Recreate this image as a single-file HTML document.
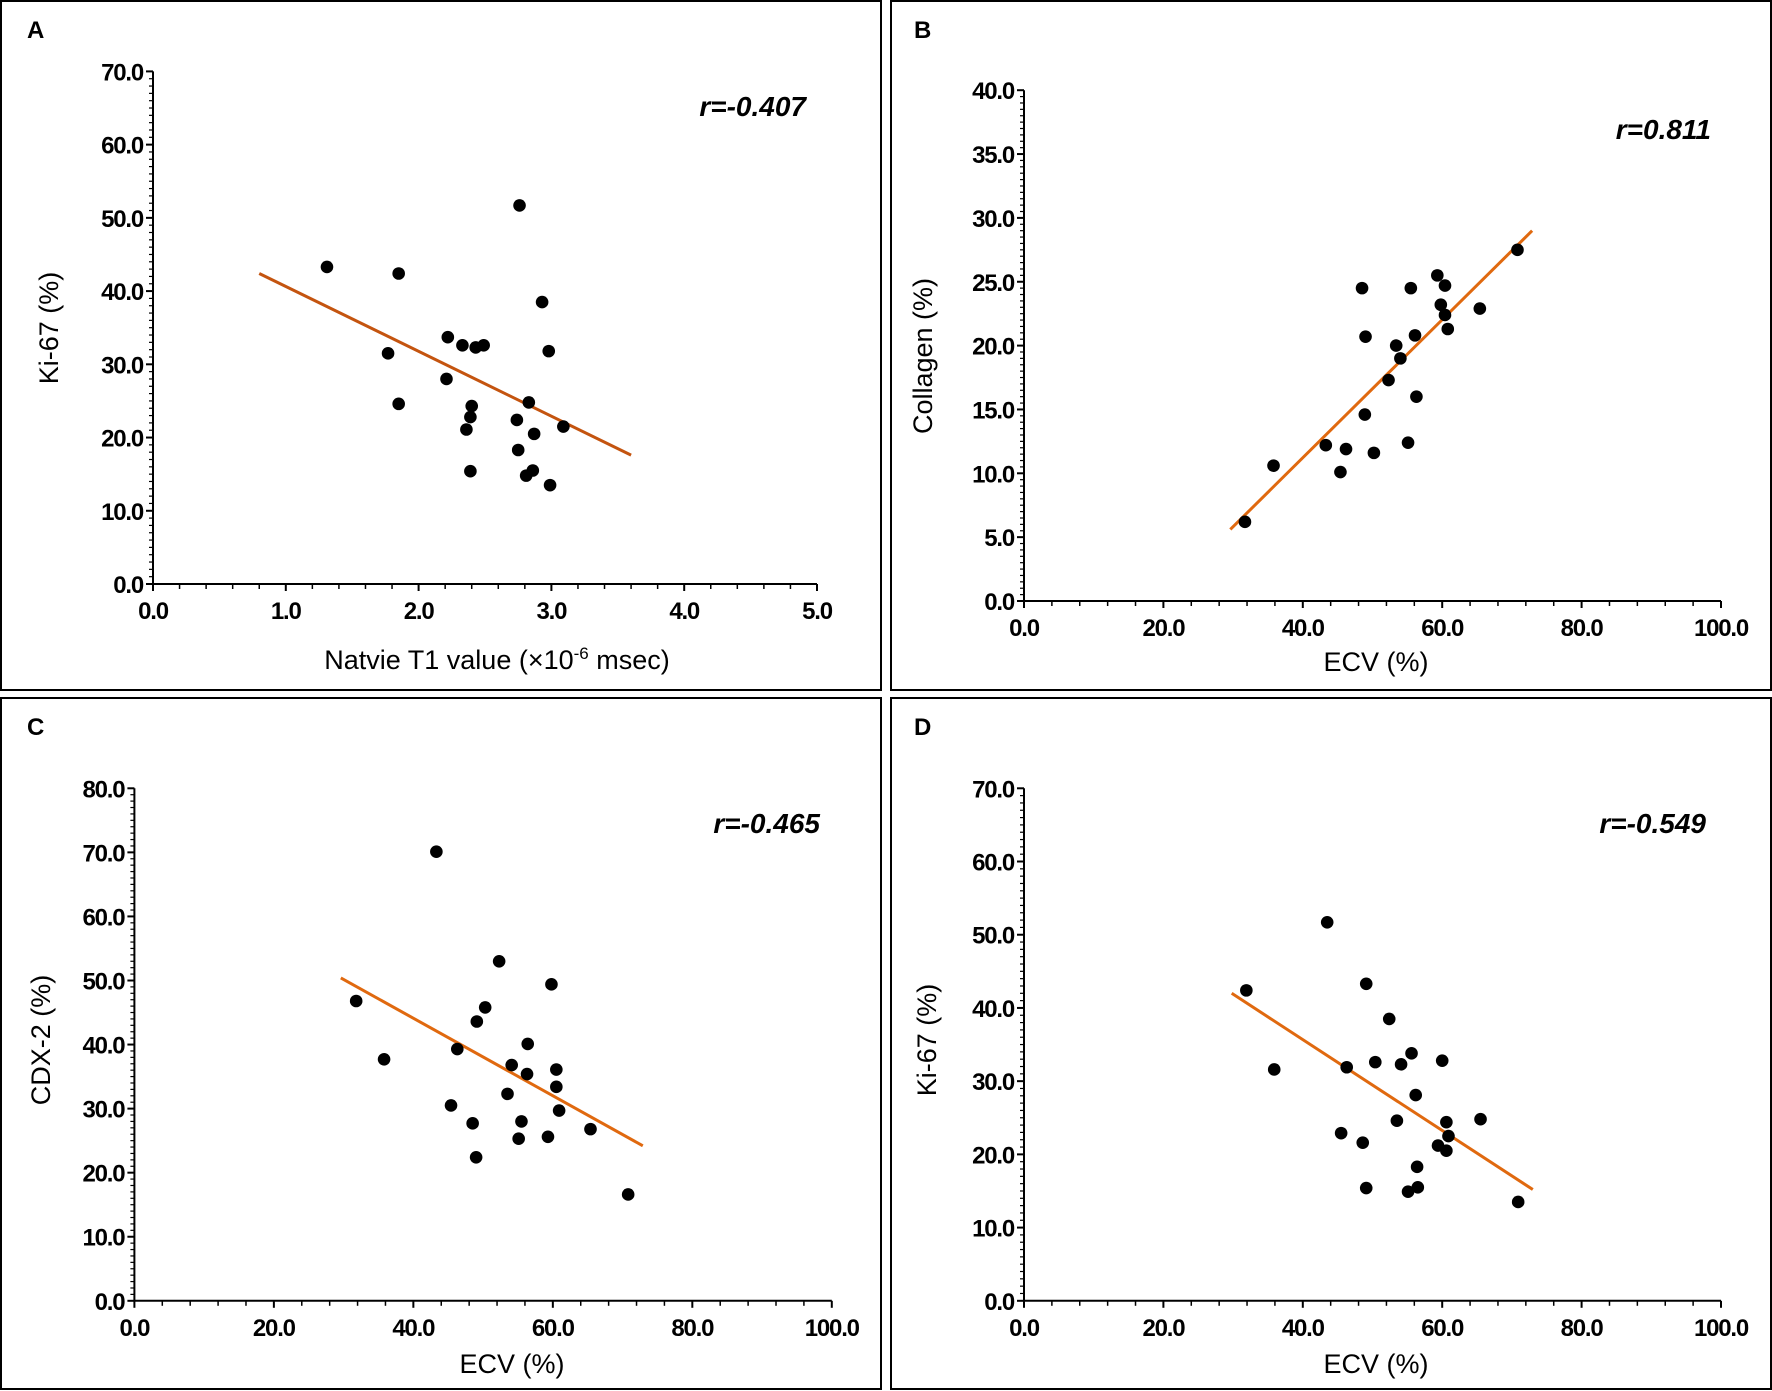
<!DOCTYPE html>
<html><head><meta charset="utf-8"><style>
html,body{margin:0;padding:0;background:#fff}
svg{display:block}
text{font-family:"Liberation Sans",sans-serif;fill:#000}
.tick{font-family:"Liberation Sans Narrow","Liberation Sans",sans-serif;font-weight:bold;font-size:24px;letter-spacing:-1.2px}
.title{font-size:27px}
.rlab{font-weight:bold;font-style:italic;font-size:28px}
.letter{font-weight:bold;font-size:24px}
</style></head><body>
<svg id="fig" width="1772" height="1391" viewBox="0 0 1772 1391" xmlns="http://www.w3.org/2000/svg"></svg>
<script>
// Panel A data
const aX = [1.31,1.85,2.76,2.93,1.77,2.22,2.33,2.43,2.49,2.98,2.21,1.85,2.40,2.39,2.36,2.83,2.74,3.09,2.87,2.75,2.39,2.81,2.86,2.99];
const aY = [43.3,42.4,51.7,38.5,31.5,33.7,32.6,32.3,32.6,31.8,28.0,24.6,24.3,22.8,21.1,24.8,22.4,21.5,20.5,18.3,15.4,14.8,15.5,13.5];
const aTrendX = [0.8,3.6];
const aTrendY = [42.4,17.6];
const aXTicks = ["0.0","1.0","2.0","3.0","4.0","5.0"];
const aYTicks = ["0.0","10.0","20.0","30.0","40.0","50.0","60.0","70.0"];
// Panel B data
const bX = [31.7,35.8,43.3,46.2,45.4,50.2,55.1,48.9,56.3,52.3,54.0,53.4,49.0,56.1,48.5,55.5,59.3,60.4,59.8,60.4,60.8,65.4,70.8];
const bY = [6.2,10.6,12.2,11.9,10.1,11.6,12.4,14.6,16.0,17.3,19.0,20.0,20.7,20.8,24.5,24.5,25.5,24.7,23.2,22.4,21.3,22.9,27.5];
const bTrendX = [29.6,72.9];
const bTrendY = [5.6,29.0];
const bXTicks = ["0.0","20.0","40.0","60.0","80.0","100.0"];
const bYTicks = ["0.0","5.0","10.0","15.0","20.0","25.0","30.0","35.0","40.0"];
// Panel C data
const cX = [43.3,52.3,59.8,31.8,50.3,49.1,56.4,46.3,35.8,54.1,60.5,56.3,60.5,53.5,45.4,60.9,55.5,48.5,65.4,59.3,55.1,49.0,70.8];
const cY = [70.1,53.0,49.4,46.8,45.8,43.6,40.1,39.3,37.7,36.8,36.1,35.4,33.4,32.3,30.5,29.7,28.0,27.7,26.8,25.6,25.3,22.4,16.6];
const cTrendX = [29.6,72.9];
const cTrendY = [50.4,24.2];
const cXTicks = ["0.0","20.0","40.0","60.0","80.0","100.0"];
const cYTicks = ["0.0","10.0","20.0","30.0","40.0","50.0","60.0","70.0","80.0"];
// Panel D data
const dX = [43.5,31.9,49.1,52.4,35.9,46.3,50.4,54.1,55.6,60.0,56.2,53.5,60.6,65.5,60.9,45.5,48.6,59.4,60.6,56.4,49.1,55.1,56.5,70.9];
const dY = [51.7,42.4,43.3,38.5,31.6,31.9,32.6,32.3,33.8,32.8,28.1,24.6,24.4,24.8,22.5,22.9,21.6,21.2,20.5,18.3,15.4,14.9,15.5,13.5];
const dTrendX = [29.8,73.0];
const dTrendY = [42.0,15.2];
const dXTicks = ["0.0","20.0","40.0","60.0","80.0","100.0"];
const dYTicks = ["0.0","10.0","20.0","30.0","40.0","50.0","60.0","70.0"];

const NS="http://www.w3.org/2000/svg";
const svg=document.getElementById('fig');
function el(tag,attrs,parent,txt){const e=document.createElementNS(NS,tag);for(const k in attrs)e.setAttribute(k,attrs[k]);if(txt!==undefined)e.textContent=txt;(parent||svg).appendChild(e);return e;}

function panel(cfg){
  const g=el('g',{});
  
  
  const b=el('rect',{x:cfg.box[0],y:cfg.box[1],width:cfg.box[2],height:cfg.box[3],fill:'none',stroke:'#000','stroke-width':2},g);
  
  
  const L=el('text',{x:cfg.letter[0],y:cfg.letter[1],class:'letter'},g,cfg.id);
  
  
  const sx=v=>cfg.x0+(v-cfg.xmin)/(cfg.xmax-cfg.xmin)*(cfg.x1-cfg.x0);
  const sy=v=>cfg.y0-(v-cfg.ymin)/(cfg.ymax-cfg.ymin)*(cfg.y0-cfg.y1);
  const ax=el('line',{x1:cfg.x0,y1:cfg.y0,x2:cfg.x1,y2:cfg.y0,stroke:'#000','stroke-width':2},g);
  
  
  const ay=el('line',{x1:cfg.x0,y1:cfg.y0,x2:cfg.x0,y2:cfg.y1,stroke:'#000','stroke-width':2},g);
  
  
  const nx=cfg.xTicks.length-1, xstep=(cfg.xmax-cfg.xmin)/nx;
  for(let i=0;i<=nx;i++){
    const v=cfg.xmin+i*xstep, X=sx(v);
    el('line',{x1:X,y1:cfg.y0,x2:X,y2:cfg.y0+7,stroke:'#000','stroke-width':2},g);
    const t=el('text',{x:X,y:cfg.y0+35,'text-anchor':'middle',class:'tick'},g,cfg.xTicks[i]);
    
    
    if(i<nx){for(let m=1;m<cfg.xMinor;m++){const XX=sx(v+m*xstep/cfg.xMinor);el('line',{x1:XX,y1:cfg.y0,x2:XX,y2:cfg.y0+5,stroke:'#000','stroke-width':1.5},g);}}
  }
  const ny=cfg.yTicks.length-1, ystep=(cfg.ymax-cfg.ymin)/ny;
  for(let i=0;i<=ny;i++){
    const v=cfg.ymin+i*ystep, Y=sy(v);
    el('line',{x1:cfg.x0-7,y1:Y,x2:cfg.x0,y2:Y,stroke:'#000','stroke-width':2},g);
    const t=el('text',{x:cfg.x0-10,y:Y+9,'text-anchor':'end',class:'tick'},g,cfg.yTicks[i]);
    
    
    if(i<ny){for(let m=1;m<10;m++){const YY=sy(v+m*ystep/10);el('line',{x1:cfg.x0-4,y1:YY,x2:cfg.x0,y2:YY,stroke:'#000','stroke-width':1.2},g);}}
  }
  const xt=el('text',{x:cfg.xt[0],y:cfg.xt[1],'text-anchor':'middle',class:'title'},g);
  
  
  if(cfg.sup){xt.textContent='Natvie T1 value (\u00d710';el('tspan',{dy:-10,'font-size':17},xt,'-6');el('tspan',{dy:10},xt,' msec)');}
  else xt.textContent=cfg.xTitle;
  const yt=el('text',{x:cfg.yt[0],y:cfg.yt[1],'text-anchor':'middle',class:'title',transform:`rotate(-90 ${cfg.yt[0]} ${cfg.yt[1]})`},g,cfg.yTitle);
  
  
  const tl=el('line',{x1:sx(cfg.tx[0]),y1:sy(cfg.ty[0]),x2:sx(cfg.tx[1]),y2:sy(cfg.ty[1]),stroke:cfg.tc,'stroke-width':3},g);
  
  
  for(let i=0;i<cfg.xs.length;i++){
    const c=el('circle',{cx:sx(cfg.xs[i]),cy:sy(cfg.ys[i]),r:6.3,fill:'#000'},g);
    
    
  }
  const r=el('text',{x:cfg.r[0],y:cfg.r[1],'text-anchor':'end',class:'rlab'},g,cfg.rText);
  
  
}

panel({id:'A',box:[1,1,880,689],letter:[27,38],x0:153,x1:817,y0:584,y1:71.4,xmin:0,xmax:5,ymin:0,ymax:70,xTicks:aXTicks,yTicks:aYTicks,xMinor:5,xs:aX,ys:aY,tx:aTrendX,ty:aTrendY,tc:'#c4540f',sup:true,xt:[497,669],yTitle:'Ki-67 (%)',yt:[58,328],r:[806,116],rText:'r=-0.407'});
panel({id:'B',box:[891,1,880,689],letter:[914,38],x0:1024,x1:1721,y0:601,y1:90.2,xmin:0,xmax:100,ymin:0,ymax:40,xTicks:bXTicks,yTicks:bYTicks,xMinor:5,xs:bX,ys:bY,tx:bTrendX,ty:bTrendY,tc:'#e0690f',xTitle:'ECV (%)',xt:[1376,671],yTitle:'Collagen (%)',yt:[932,356],r:[1711,139],rText:'r=0.811'});
panel({id:'C',box:[1,698,880,691],letter:[27,735],x0:134.4,x1:831.8,y0:1300.8,y1:788.3,xmin:0,xmax:100,ymin:0,ymax:80,xTicks:cXTicks,yTicks:cYTicks,xMinor:5,xs:cX,ys:cY,tx:cTrendX,ty:cTrendY,tc:'#e0690f',xTitle:'ECV (%)',xt:[512,1373],yTitle:'CDX-2 (%)',yt:[50,1040],r:[820,833],rText:'r=-0.465'});
panel({id:'D',box:[891,698,880,691],letter:[914,735],x0:1024,x1:1721,y0:1300.8,y1:788.3,xmin:0,xmax:100,ymin:0,ymax:70,xTicks:dXTicks,yTicks:dYTicks,xMinor:5,xs:dX,ys:dY,tx:dTrendX,ty:dTrendY,tc:'#e0690f',xTitle:'ECV (%)',xt:[1376,1373],yTitle:'Ki-67 (%)',yt:[936,1040],r:[1706,833],rText:'r=-0.549'});
</script>
</body></html>
